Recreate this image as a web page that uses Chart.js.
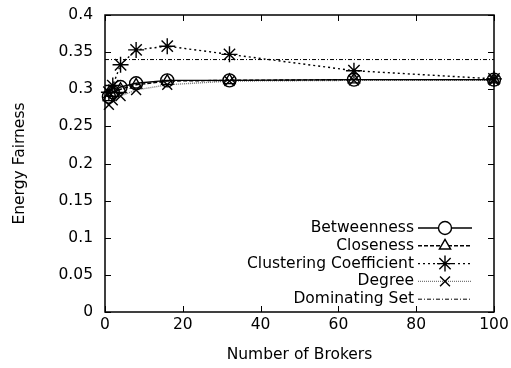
<!DOCTYPE html>
<html>
<head>
<meta charset="utf-8">
<script src="https://cdn.jsdelivr.net/npm/chart.js@4/dist/chart.umd.min.js"></script>
<style>
  html, body { margin: 0; padding: 0; background: #fff; }
  #wrap { width: 511px; height: 368px; }
</style>
</head>
<body>
<div id="wrap"><canvas id="fairChart" width="511" height="368"></canvas></div>
<script>
const brokers = [1, 2, 4, 8, 16, 32, 64, 100];
const betweenness = [0.290, 0.296, 0.303, 0.308, 0.312, 0.312, 0.313, 0.313];
const closeness = [0.289, 0.295, 0.300, 0.306, 0.311, 0.312, 0.313, 0.313];
const clustering = [0.296, 0.305, 0.333, 0.353, 0.358, 0.347, 0.325, 0.314];
const degree = [0.279, 0.285, 0.291, 0.299, 0.306, 0.311, 0.312, 0.312];
const domX = [0, 100];
const domSet = [0.340, 0.340];
const xTicks = [0, 20, 40, 60, 80, 100];
const yTicks = [0, 0.05, 0.1, 0.15, 0.2, 0.25, 0.3, 0.35, 0.4];

const FONT = "'DejaVu Sans', sans-serif";

function pts(xs, ys) {
    return xs.map((x, i) => ({x: x, y: ys[i]}));
}

function series(label, xs, ys, style) {
    return Object.assign({
        label: label,
        data: pts(xs, ys),
        borderColor: "#000",
        backgroundColor: "rgba(0,0,0,0)",
        pointBorderColor: "#000",
        pointBackgroundColor: "rgba(0,0,0,0)",
        borderWidth: 1.4,
        pointBorderWidth: 1.4,
        pointRadius: 6.5,
        fill: false,
        tension: 0,
        clip: false
    }, style);
}

// gnuplot style box with inward ticks + legend in the lower right
const boxPlugin = {
    id: "box",
    afterDraw(chart) {
        const c = chart.ctx;
        const a = chart.chartArea;
        const xs = chart.scales.x, ys = chart.scales.y;
        c.save();
        c.strokeStyle = "#000";
        c.lineWidth = 1.5;
        c.setLineDash([]);
        c.strokeRect(a.left, a.top, a.right - a.left, a.bottom - a.top);
        c.lineWidth = 1;
        c.beginPath();
        xTicks.forEach(v => {
            const px = Math.round(xs.getPixelForValue(v)) + 0.5;
            c.moveTo(px, a.bottom); c.lineTo(px, a.bottom - 6);
            c.moveTo(px, a.top); c.lineTo(px, a.top + 6);
        });
        yTicks.forEach(v => {
            const py = Math.round(ys.getPixelForValue(v)) + 0.5;
            c.moveTo(a.left, py); c.lineTo(a.left + 6, py);
            c.moveTo(a.right, py); c.lineTo(a.right - 6, py);
        });
        c.stroke();

        // legend
        const textRight = 414, lineL = 418, lineR = 472, mid = 445;
        c.font = "15.5px " + FONT;
        c.textAlign = "right";
        c.textBaseline = "middle";
        chart.data.datasets.forEach((ds, i) => {
            const y = 228 + i * 17.8;
            c.fillStyle = "#000";
            c.fillText(ds.label, textRight, y);
            c.strokeStyle = ds.borderColor;
            c.lineWidth = ds.borderWidth;
            c.setLineDash(ds.borderDash || []);
            c.beginPath();
            c.moveTo(lineL, y); c.lineTo(lineR, y);
            c.stroke();
            c.setLineDash([]);
            if (ds.pointRadius > 0) {
                c.strokeStyle = ds.pointBorderColor;
                c.fillStyle = "#fff";
                c.lineWidth = ds.pointBorderWidth;
                Chart.helpers.drawPoint(c, {
                    pointStyle: ds.pointStyle,
                    radius: ds.pointRadius,
                    rotation: 0,
                    borderWidth: ds.pointBorderWidth
                }, mid, y);
            }
        });
        c.restore();
    }
};

new Chart(document.getElementById("fairChart"), {
    type: "line",
    data: {
        datasets: [
            series("Betweenness", brokers, betweenness, {pointStyle: "circle"}),
            series("Closeness", brokers, closeness, {pointStyle: "triangle", borderDash: [4, 2]}),
            series("Clustering Coefficient", brokers, clustering, {pointStyle: "star", pointRadius: 8, borderDash: [2, 3]}),
            series("Degree", brokers, degree, {pointStyle: "crossRot", pointRadius: 7, borderColor: "#777", borderDash: [1, 1], pointBorderColor: "#000"}),
            series("Dominating Set", domX, domSet, {pointRadius: 0, borderWidth: 1, borderDash: [4, 2, 1, 2]})
        ]
    },
    options: {
        responsive: false,
        animation: false,
        devicePixelRatio: 1,
        layout: {padding: {left: 0, top: 15, right: 17, bottom: 0}},
        plugins: {legend: {display: false}, tooltip: {enabled: false}},
        scales: {
            x: {
                type: "linear",
                min: 0, max: 100,
                afterBuildTicks: s => { s.ticks = xTicks.map(v => ({value: v})); },
                afterFit: s => { s.height = 56; s.paddingLeft = 0; s.paddingRight = 0; },
                grid: {display: false, drawTicks: false},
                border: {display: false},
                ticks: {color: "#000", padding: 4, font: {family: FONT, size: 15.5}},
                title: {display: true, text: "Number of Brokers", color: "#000", padding: {top: 6}, font: {family: FONT, size: 15.5}}
            },
            y: {
                min: 0, max: 0.4,
                afterBuildTicks: s => { s.ticks = yTicks.map(v => ({value: v})); },
                afterFit: s => { s.width = 105; s.paddingTop = 0; s.paddingBottom = 0; },
                grid: {display: false, drawTicks: false},
                border: {display: false},
                ticks: {color: "#000", padding: 12, font: {family: FONT, size: 15.5},
                    callback: v => String(Number(v.toFixed(2)))},
                title: {display: true, text: "Energy Fairness", color: "#000", padding: {top: 11, bottom: 4}, font: {family: FONT, size: 15.5}}
            }
        }
    },
    plugins: [boxPlugin]
});
</script>
</body>
</html>
